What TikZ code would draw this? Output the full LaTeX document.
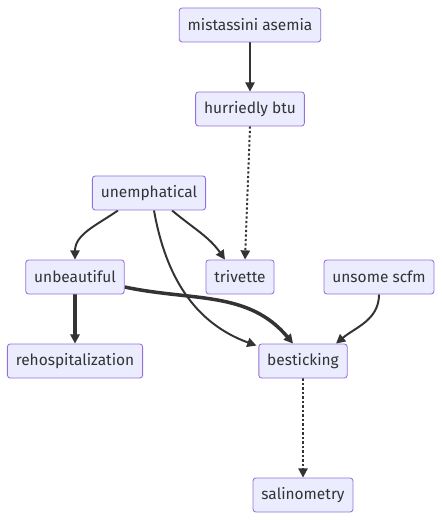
\documentclass[tikz,border=0pt]{standalone}
\usepackage{fontspec}
\setmainfont{Fira Sans}
\usetikzlibrary{arrows.meta,backgrounds}
\definecolor{boxfill}{RGB}{236,236,255}
\definecolor{boxline}{RGB}{147,112,219}
\definecolor{ink}{RGB}{51,51,51}

\begin{document}
\begin{tikzpicture}[
  >={Triangle[length=0.23cm,width=0.23cm]},
  box/.style={rectangle,rounded corners=0.07cm,draw=boxline,fill=boxfill,line width=0.6pt,
    minimum height=0.85cm,inner xsep=0.21cm,inner ysep=0pt,text=ink,font=\fontsize{11}{13}\selectfont},
  flow/.style={->,draw=ink,line width=1.4pt},
  thickflow/.style={flow,line width=2.5pt},
  dotflow/.style={flow,dash pattern=on 1.6pt off 1.6pt}
]
\useasboundingbox (0.000,0.000) rectangle (11.025,-13.000);
% ================= nodes =================
\node[box] (ma) at (6.250,-0.625) {mistassini asemia};
\node[box] (hb) at (6.250,-2.725) {hurriedly btu};
\node[box] (un) at (3.725,-4.825) {unemphatical};
\node[box] (ub) at (1.875,-6.925) {unbeautiful};
\node[box] (tv) at (6.000,-6.925) {trivette};
\node[box] (us) at (9.475,-6.925) {unsome scfm};
\node[box] (rh) at (1.875,-9.025) {rehospitalization};
\node[box] (bs) at (7.575,-9.025) {besticking};
\node[box] (sm) at (7.575,-12.375) {salinometry};
% ================= links =================
\begin{scope}[on background layer]
\draw[flow] (ma) -- (hb);
\draw[dotflow] (hb.south) -- ([xshift=0.125cm]tv.north);
\draw[flow] ([xshift=-0.775cm]un.south) to[out=215,in=90] (ub.north);
\draw[flow] ([xshift=0.575cm]un.south) to[out=-40,in=125] ([xshift=-0.375cm]tv.north);
\draw[flow] ([xshift=0.125cm]un.south) to[out=-80,in=160] ([xshift=-0.05cm,yshift=-0.05cm]bs.north west);
\draw[thickflow] ([yshift=-0.25cm]ub.east) to[out=-12,in=130] ([xshift=-0.25cm]bs.north);
\draw[thickflow] (ub) -- (rh);
\draw[flow] (us.south) to[out=-90,in=40] ([xshift=0.825cm]bs.north);
\draw[dotflow] (bs) -- (sm);
\end{scope}
\end{tikzpicture}
\end{document}
